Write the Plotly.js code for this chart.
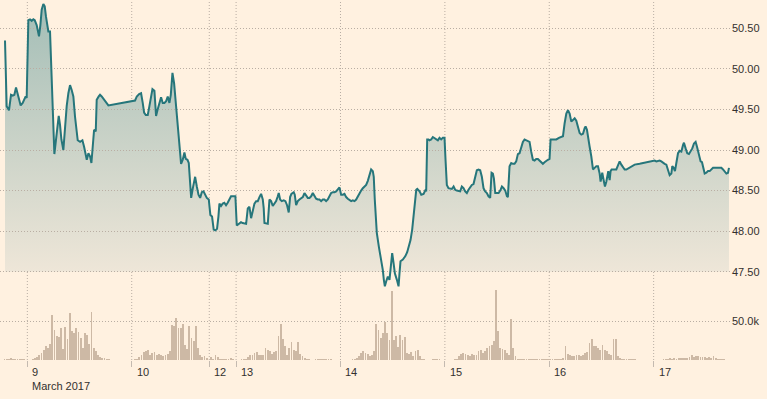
<!DOCTYPE html>
<html><head><meta charset="utf-8">
<script src="https://cdn.plot.ly/plotly-3.0.1.min.js"></script>
<style>html,body{margin:0;padding:0;background:#fff1e0;}#chart{width:767px;height:399px;}</style>
</head><body><div id="chart"></div>
<script>
// ---- price series (time 'DD HH:MM', March 2017) ----
const priceTimes = [
'08 18:52','08 19:15','08 19:47','08 20:15','08 20:38','08 21:01','08 21:24','08 21:42','08 22:10','08 22:28','08 22:56','08 23:19','08 23:37','08 23:51',
'09 00:14','09 00:37','09 01:00','09 01:23','09 01:42','09 02:09','09 02:23','09 02:41','09 03:00','09 03:18','09 03:41','09 04:00','09 04:18','09 04:37','09 04:50','09 05:13','09 05:22','09 05:50','09 06:13','09 06:36','09 06:55','09 07:13','09 07:31','09 07:50','09 08:17','09 08:40','09 09:03','09 09:26','09 09:49','09 10:12','09 10:35','09 10:58','09 11:22','09 11:35','09 12:08','09 12:40','09 13:03','09 13:26','09 13:40','09 14:03','09 14:26','09 14:44','09 15:02','09 15:21','09 15:44','09 15:57','09 16:25','09 16:43','09 17:06','09 17:29','09 18:06','09 18:38',
'10 00:46','10 01:10','10 01:42','10 02:09','10 02:32','10 02:51','10 03:14','10 03:41','10 04:04','10 04:23','10 04:46','10 05:13','10 05:27','10 05:36','10 05:55','10 06:18','10 06:45','10 07:08','10 07:31','10 07:54','10 08:17','10 08:40','10 08:59','10 09:22','10 09:45','10 10:08','10 10:31','10 10:58','10 11:21','10 11:44','10 12:07','10 12:26','10 12:49','10 13:07','10 13:26','10 13:40','10 14:03','10 14:35','10 14:58','10 15:21','10 15:44','10 16:07','10 16:30','10 16:53','10 17:16','10 17:43',
'12 17:55','12 18:05','12 18:28','12 18:51','12 19:14','12 19:37','12 19:56','12 20:10','12 20:32','12 20:55','12 21:18','12 21:41','12 22:04','12 22:27','12 22:50','12 23:23','12 23:50',
'13 00:09','13 00:36','13 01:08','13 01:32','13 01:55','13 02:18','13 02:41','13 03:04','13 03:27','13 03:50','13 04:13','13 04:36','13 04:59','13 05:22','13 05:45','13 06:08','13 06:21','13 06:31','13 07:03','13 07:17','13 07:40','13 08:03','13 08:26','13 08:49','13 09:12','13 09:35','13 09:48','13 10:07','13 10:30','13 10:57','13 11:20','13 11:43','13 12:06','13 12:25','13 12:43','13 13:15','13 13:29','13 13:48','13 14:11','13 14:34','13 14:57','13 15:20','13 15:43','13 16:06','13 16:29','13 16:52','13 17:15','13 17:38','13 18:01','13 18:24','13 18:47','13 19:10','13 19:33','13 19:56','13 20:19','13 20:42','13 21:05','13 21:28','13 21:51','13 22:14','13 22:37','13 23:00','13 23:23','13 23:46',
'14 00:09','14 00:32','14 00:55','14 01:18','14 01:41','14 02:04','14 02:27','14 02:50','14 03:13','14 03:36','14 03:59','14 04:22','14 04:45','14 05:08','14 05:31','14 05:54','14 06:17','14 06:40','14 07:03','14 07:26','14 07:39','14 07:53','14 08:12','14 08:21','14 08:49','14 09:21','14 09:44','14 09:58','14 10:12','14 10:30','14 10:53','14 11:16','14 11:39','14 11:53','14 12:12','14 12:30','14 12:58','14 13:21','14 13:34','14 13:48','14 14:20','14 14:53','14 15:20','14 15:43','14 16:06','14 16:29','14 16:48','14 17:06','14 17:25','14 17:39','14 18:11','14 18:34','14 19:06','14 19:34','14 19:42','14 19:56','14 20:14','14 20:28','14 20:51','14 21:14','14 21:37','14 22:00','14 22:23','14 22:46','14 23:09','14 23:32','14 23:55',
'15 00:09','15 00:27','15 00:50','15 01:13','15 01:36','15 02:00','15 02:22','15 02:45','15 03:08','15 03:31','15 03:54','15 04:17','15 04:40','15 05:03','15 05:26','15 05:49','15 06:12','15 06:35','15 06:58','15 07:21','15 07:44','15 08:07','15 08:30','15 08:53','15 09:16','15 09:39','15 10:02','15 10:25','15 10:44','15 11:02','15 11:16','15 11:35','15 11:58','15 12:21','15 12:44','15 13:07','15 13:30','15 13:53','15 14:16','15 14:29','15 14:52','15 15:15','15 15:38','15 16:01','15 16:24','15 16:47','15 17:10','15 17:33','15 17:56','15 18:19','15 18:42','15 19:28','15 19:51','15 20:14','15 20:37','15 21:00','15 21:23','15 21:46','15 22:09','15 22:32','15 22:55','15 23:18','15 23:41',
'16 00:04','16 00:18','16 00:51','16 01:37','16 02:13','16 02:46','16 03:09','16 03:32','16 03:55','16 04:18','16 04:41','16 05:04','16 05:27','16 05:50','16 06:13','16 06:36','16 06:59','16 07:22','16 07:45','16 08:08','16 08:21','16 08:40','16 08:54','16 09:17','16 09:40','16 10:03','16 10:26','16 10:49','16 11:12','16 11:35','16 11:48','16 11:58','16 12:11','16 12:30','16 12:48','16 13:07','16 13:20','16 13:34','16 13:53','16 14:06','16 14:20','16 14:39','16 15:02','16 15:25','16 15:48','16 16:11','16 16:34','16 16:57','16 17:20','16 17:43','16 18:06','16 18:29','16 18:52','16 19:15','16 19:38','16 20:47','16 22:19','16 23:28',
'17 00:14','17 00:37','17 01:00','17 01:23','17 01:46','17 02:09','17 02:32','17 02:55','17 03:18','17 03:41','17 04:04','17 04:17','17 04:36','17 04:54','17 05:13','17 05:36','17 05:59','17 06:22','17 06:45','17 06:58','17 07:21','17 07:44','17 08:07','17 08:30','17 08:53','17 09:16','17 09:39','17 09:58','17 10:21','17 10:48','17 11:07','17 11:30','17 11:44','17 12:07','17 12:30','17 12:53','17 13:16','17 13:39','17 14:02','17 14:25','17 14:48','17 15:11','17 15:34','17 15:57','17 16:20','17 16:43','17 17:06','17 17:19'
];
const priceValues = [
50.35,49.54,49.49,49.68,49.67,49.68,49.77,49.70,49.58,49.55,49.58,49.62,49.66,49.64,
50.60,50.61,50.59,50.61,50.60,50.54,50.46,50.40,50.54,50.73,50.80,50.77,50.64,50.54,50.46,50.46,50.23,49.37,48.95,49.13,49.29,49.42,49.31,49.13,49.00,49.33,49.54,49.70,49.80,49.74,49.66,49.41,49.21,49.12,49.10,49.12,49.04,48.92,48.88,48.96,48.92,48.84,49.08,49.25,49.23,49.62,49.66,49.68,49.66,49.63,49.58,49.55,
49.61,49.66,49.69,49.70,49.58,49.46,49.43,49.43,49.54,49.66,49.75,49.73,49.54,49.42,49.49,49.58,49.65,49.58,49.58,49.60,49.66,49.58,49.68,49.95,49.82,49.58,49.33,49.04,48.83,48.88,48.97,48.89,48.88,48.84,48.55,48.41,48.53,48.67,48.55,48.45,48.41,48.48,48.49,48.45,48.41,48.39,
48.30,48.20,48.18,48.02,48.01,48.03,48.18,48.34,48.31,48.34,48.35,48.32,48.35,48.39,48.43,48.43,48.43,
48.07,48.09,48.11,48.10,48.09,48.09,48.28,48.30,48.16,48.24,48.34,48.37,48.37,48.42,48.46,48.39,48.28,48.10,48.09,48.09,48.39,48.37,48.31,48.34,48.37,48.43,48.47,48.39,48.37,48.38,48.37,48.32,48.23,48.42,48.46,48.48,48.45,48.32,48.37,48.39,48.41,48.42,48.47,48.44,48.41,48.41,48.43,48.47,48.43,48.40,48.39,48.39,48.37,48.39,48.39,48.37,48.39,48.43,48.47,48.48,48.48,48.49,48.52,48.54,
48.45,48.45,48.46,48.42,48.40,48.39,48.37,48.38,48.37,48.39,48.43,48.48,48.50,48.53,48.55,48.57,48.62,48.71,48.76,48.74,48.67,48.39,48.06,47.98,47.81,47.65,47.52,47.40,47.32,47.38,47.44,47.40,47.57,47.73,47.61,47.48,47.40,47.32,47.48,47.63,47.65,47.69,47.74,47.81,47.89,48.02,48.18,48.35,48.51,48.52,48.49,48.45,48.46,48.51,48.49,49.13,49.13,49.12,49.13,49.16,49.15,49.13,49.12,49.15,49.13,49.15,49.15,
48.88,48.57,48.53,48.52,48.52,48.55,48.51,48.50,48.49,48.49,48.55,48.53,48.49,48.47,48.51,48.55,48.57,48.58,48.65,48.75,48.76,48.75,48.67,48.53,48.49,48.47,48.43,48.41,48.72,48.71,48.65,48.47,48.47,48.47,48.50,48.55,48.53,48.50,48.43,48.42,48.80,48.84,48.83,48.83,48.86,48.95,48.96,49.02,49.10,49.13,49.12,49.10,48.98,48.88,48.87,48.89,48.89,48.87,48.84,48.83,48.85,48.87,48.88,
48.89,49.13,49.13,49.13,49.15,49.16,49.17,49.33,49.45,49.49,49.45,49.35,49.37,49.39,49.36,49.29,49.21,49.19,49.20,49.27,49.29,49.25,49.15,49.04,48.92,48.76,48.78,48.80,48.80,48.71,48.61,48.69,48.72,48.63,48.55,48.61,48.71,48.74,48.63,48.74,48.76,48.76,48.76,48.76,48.81,48.86,48.82,48.78,48.76,48.76,48.77,48.79,48.80,48.80,48.82,48.83,48.85,48.86,
48.87,48.86,48.87,48.87,48.86,48.84,48.83,48.82,48.76,48.69,48.71,48.80,48.78,48.74,48.84,48.96,48.99,48.98,49.06,49.09,49.02,48.96,48.95,48.98,49.02,49.08,49.10,49.04,48.94,48.86,48.85,48.78,48.71,48.72,48.74,48.74,48.76,48.78,48.78,48.78,48.78,48.78,48.78,48.76,48.74,48.71,48.72,48.78
];

// ---- volume (thousands), 30-minute bars; each session starts at its given slot ----
const volStarts = ['08 18:45','09 00:15','10 00:15','12 18:15','13 00:15','14 00:15','15 00:15','16 00:15','17 00:15'];
const volMar08 = [1.7,0.8,1.2,3,1,1.5,1.2,1.5,1,0.8,0.5];
const volMar09 = [0.5,0.5,1,2.5,4,6,9,13,18,16,20,58,38,31,29,41,14,42,27,60,37,34,41,36,28,16,34,32,20,62,16,12,7,4,3,2,1.5,0.8];
const volMar10 = [0.4,0.8,1.7,3.4,6.8,9.7,11.4,12.7,6,8.5,10.6,6.8,7.6,6,5.5,6,8,11,45,43.6,53.4,41.5,41.5,45.8,19.5,14.4,43,28,24.6,43,16,6.8,3.8,5,2.5];
const volMar12 = [4.2,1.7,6.4,3.4,1.7,0.8,1.7,1.3,1.7,2.1,1,0.5];
const volMar13 = [0.4,0.4,0.8,0.8,1.7,4.2,6,6.8,8.9,9.7,7,6.8,6.8,15.3,12.3,11.9,8,9.7,11.9,31,45.8,26.7,18.2,6.8,16,23.7,13,11,22.9,7.6,5.5,2.5,1.7,0.8,0.4,0.3,0.8,1.3,1.7,1.7,1.7,0.8,0.8,0.8,0.4,0.3,0.3,0.3];
const volMar14 = [0.3,0.3,0.4,0.4,0.4,1.2,1.7,2.5,5.5,8.5,11.9,8.9,7.6,5,6.8,12,45.8,38.6,28,35,49,34,26,88,26,31,17,32,26,29,9,7.6,10,4.7,11,13,4.7,1.7,0.8,0.4,0.4,0.4,0.8,0.8,1.3,0.8,0.4,0.4];
const volMar15 = [0.3,0.4,0.4,0.3,1,1.5,4.7,8,9,8,6.8,5.5,8,6.8,6.8,11,12.4,9,11,15,17.5,19.7,25,90,36.8,15,14,13,9,6.8,52.6,15,4.7,1.5,0.8,0.8,0.8,0.8,0.8,0.8,0.8,0.8,0.8,0.8,0.8,0.8,0.8,0.8];
const volMar16 = [0.8,0.8,0.8,0.8,0.8,0.8,2.5,17.4,8,6.8,5.5,5,6.8,6,4.7,6,8.9,9.7,21.6,27,17.4,18.2,16,13,19.5,13,11,8,6.8,27,27,5.5,3,1.7,1.3,0.8,0.8,0.8,0.8,0.8];
const volMar17 = [0.4,0.4,0.4,0.4,0.8,0.8,1.7,2.5,1.7,2.5,1.7,2.5,3,2.1,3,2.5,3.4,6,3.4,5,5.5,4.2,3.4,3.4,3,3.8,3,5.5,2.5,1.7,1.7,0.8,0.8,0.4];
const volSessions = [volMar08,volMar09,volMar10,volMar12,volMar13,volMar14,volMar15,volMar16,volMar17];

// ---- axis labels ----
const xTickVals = ['2017-03-09','2017-03-10','2017-03-12 17:50','2017-03-13','2017-03-14','2017-03-15','2017-03-16','2017-03-17'];
const xTickText = ['9<br>March 2017','10','12','13','14','15','16','17'];
const priceTicks = [47.5,48,48.5,49,49.5,50,50.5];
const volTicks = [50];
const volTickText = ['50.0k'];

function fullDate(s){ return '2017-03-' + s; }
function slotTimes(start, n){
  const parts = start.split(' ');
  let day = +parts[0]; let hm = parts[1].split(':'); let h = +hm[0], m = +hm[1];
  const out = [];
  const p = v => String(v).padStart(2,'0');
  for (let i=0;i<n;i++){
    out.push('2017-03-'+p(day)+' '+p(h)+':'+p(m));
    m += 30; if (m>=60){m-=60;h++;} if (h>=24){h-=24;day++;}
  }
  return out;
}

const px = priceTimes.map(fullDate);
let vx = [], vy = [];
volSessions.forEach((arr,i)=>{ vx = vx.concat(slotTimes(volStarts[i], arr.length)); vy = vy.concat(arr); });

const gridCol = '#b9aea3';
const textCol = '#33302e';
const FONT = 'Liberation Sans, Arial, sans-serif';

const traces = [
  {x: px, y: priceValues, type:'scatter', mode:'none', fill:'tozeroy', xaxis:'x', yaxis:'y',
   fillgradient:{type:'vertical', start:47.5, stop:50.85, colorscale:[[0,'#eee6d8'],[1,'#a2bdb6']]},
   hoverinfo:'skip'},
  {x: vx, y: vy, type:'bar', xaxis:'x', yaxis:'y2', width: 25*60*1000,
   marker:{color:'#cdb9a5', line:{width:0}}},
  {x: px, y: priceValues, type:'scatter', mode:'lines', xaxis:'x', yaxis:'y3',
   line:{color:'#26767b', width:2}}
];

const shapes = xTickVals.map(v => ({type:'line', xref:'x', yref:'paper', x0:v, x1:v, y0:0, y1:1,
  layer:'below', line:{color:gridCol, width:1, dash:'1px,2px'}}));

const annotations = xTickVals.map((v,i) => ({x:v, xref:'x', y:0, yref:'paper', text:xTickText[i],
  showarrow:false, xanchor:'left', yanchor:'top', align:'left', xshift:3, yshift:-4,
  font:{family:FONT, size:11, color:textCol}}));

const splitFrac = 88.3/360;
const layout = {
  width:767, height:399,
  margin:{l:0, r:36, t:0, b:39},
  paper_bgcolor:'#fff1e0', plot_bgcolor:'rgba(0,0,0,0)',
  showlegend:false, bargap:0,
  font:{family:FONT, size:11, color:textCol},
  xaxis:{type:'date', range:['2017-03-08 17:43','2017-03-17 17:47'],
    rangebreaks:[{values:['2017-03-10 17:50'], dvalue:48*3600*1000}],
    tickmode:'array', tickvals:xTickVals, ticks:'outside', ticklen:6, tickcolor:'#c4bab0', tickwidth:1,
    showticklabels:false, showgrid:false, zeroline:false, showline:false, anchor:'y2', fixedrange:true},
  yaxis:{domain:[splitFrac,1], range:[47.5,50.8485], visible:false, anchor:'x', fixedrange:true},
  yaxis2:{domain:[0,splitFrac], range:[0,113.2], side:'right', anchor:'x', tickmode:'array',
    tickvals:volTicks, ticktext:volTickText, showgrid:true, gridcolor:gridCol, griddash:'1px,2px',
    zeroline:false, showline:false, ticks:'', fixedrange:true},
  yaxis3:{domain:[0,1], range:[46.4126,50.8485], side:'right', anchor:'x', tickmode:'array',
    tickvals:priceTicks, tickformat:'.2f', showgrid:true, gridcolor:gridCol, griddash:'1px,2px',
    zeroline:false, showline:false, ticks:'', fixedrange:true},
  shapes: shapes,
  annotations: annotations
};

Plotly.newPlot('chart', traces, layout, {displayModeBar:false, staticPlot:true});
</script>
</body></html>
